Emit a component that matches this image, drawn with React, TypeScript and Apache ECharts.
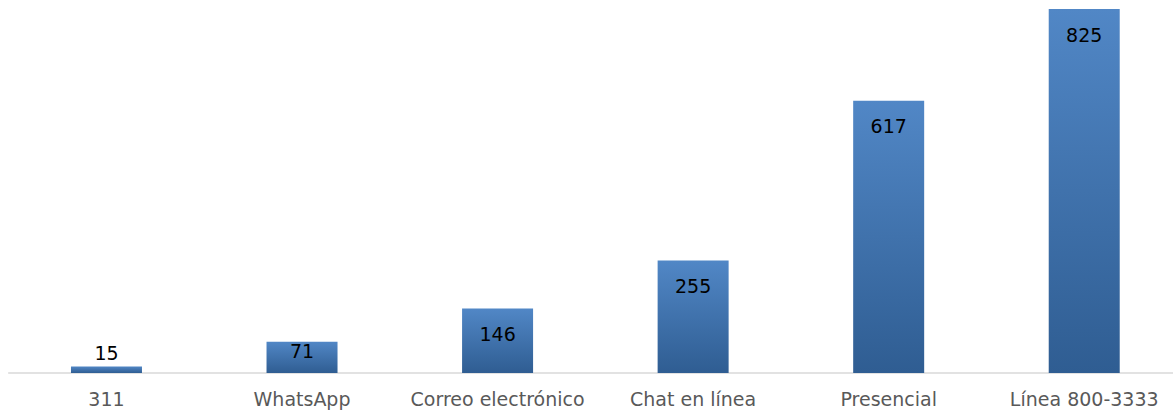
import React, { useEffect, useRef } from "react";
import * as echarts from "echarts";

const categories = ["311", "WhatsApp", "Correo electrónico", "Chat en línea", "Presencial", "Línea 800-3333"];
const values = [15, 71, 146, 255, 617, 825];

export default function App() {
  const ref = useRef<HTMLDivElement>(null);
  useEffect(() => {
    const chart = echarts.init(ref.current!, null, { renderer: "svg" });
    const gradient = new echarts.graphic.LinearGradient(0, 0, 0, 1, [
      { offset: 0, color: "#5187c6" },
      { offset: 1, color: "#2f5d92" },
    ]);
    const data = values.map((v, i) => {
      let label: any = { position: "insideTop", distance: 16 };
      if (i === 0) label = { position: "top", distance: 4 };
      else if (i === 1) label = { position: "insideTop", distance: 0 };
      return { value: v, label };
    });
    chart.setOption({
      animation: false,
      grid: { left: 8.7, right: 0, top: 9, bottom: 38, containLabel: false },
      xAxis: {
        type: "category",
        data: categories,
        axisLine: { lineStyle: { color: "#d9d9d9", width: 1.5 } },
        axisTick: { show: false },
        axisLabel: {
          color: "#595959",
          fontFamily: "DejaVu Sans",
          fontSize: 19,
          margin: 16,
          interval: 0,
        },
      },
      yAxis: {
        type: "value",
        min: 0,
        max: 825,
        show: false,
        splitLine: { show: false },
      },
      series: [
        {
          type: "bar",
          data,
          barWidth: 71,
          itemStyle: { color: gradient },
          label: {
            show: true,
            color: "#000000",
            fontFamily: "DejaVu Sans",
            fontSize: 19,
          },
        },
      ],
    });
    return () => chart.dispose();
  }, []);
  return (
    <div style={{ width: 1173, height: 411, position: "absolute", left: 0, top: 0, overflow: "hidden" }}>
      <div ref={ref} style={{ width: 1182.3, height: 411 }} />
    </div>
  );
}
